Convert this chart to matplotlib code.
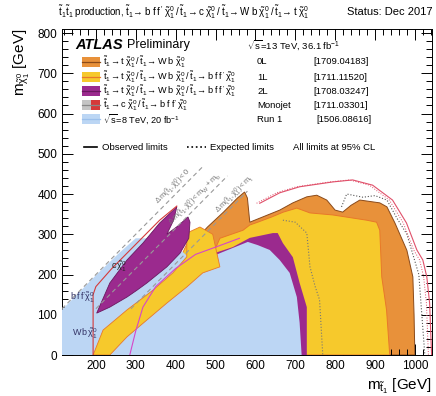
import matplotlib
matplotlib.use("Agg")
import matplotlib.pyplot as plt
import numpy as np
from matplotlib.ticker import MultipleLocator
from matplotlib.patches import Rectangle
from matplotlib.lines import Line2D

plt.rcParams['font.family'] = ['Liberation Sans', 'DejaVu Sans']
plt.rcParams['mathtext.fontset'] = 'custom'
plt.rcParams['mathtext.rm'] = 'Liberation Sans'
plt.rcParams['mathtext.it'] = 'Liberation Sans'
plt.rcParams['mathtext.bf'] = 'Liberation Sans:bold'

# --- exclusion contours (m_stop, m_chi) in GeV ---
zeroL_x = [1000, 998, 995, 980, 950, 930, 912, 862, 840, 819, 800, 779, 754, 729, 694, 661, 611, 586,
           580, 573, 555, 520, 480, 461, 440, 300]
zeroL_y = [0, 100, 194, 260, 328, 368, 378, 385, 372, 355, 360, 385, 397, 393, 378, 360, 340, 330,
           390, 405, 390, 355, 318, 298, 250, 0]

oneL_x = [937, 929, 917, 912, 904, 879, 794, 737, 704, 670, 641, 606, 586, 569, 540, 511, 500, 493,
          480, 461, 430, 300]
oneL_y = [0, 112, 194, 310, 330, 335, 348, 353, 365, 355, 343, 330, 323, 310, 300, 290, 265, 290,
          305, 303, 280, 0]

twoL_x = [729, 729, 711, 694, 669, 656, 644, 586, 543, 503, 461, 436, 420, 400]
twoL_y = [0, 119, 179, 243, 278, 303, 303, 291, 268, 255, 236, 200, 180, 0]

run1_x = [115, 115, 200, 260, 300, 380, 430, 461, 511, 561, 581, 606, 636, 661, 686, 704, 711, 716]
run1_y = [0, 112, 198, 255, 290, 290, 245, 231, 253, 273, 281, 273, 261, 236, 204, 144, 80, 0]

twoL_diag_x = [202, 235, 278, 318, 360, 403, 395, 378, 405, 431, 436, 433, 411, 378, 328, 303, 278, 235]
twoL_diag_y = [104, 179, 236, 278, 328, 368, 335, 300, 320, 343, 330, 290, 253, 219, 179, 161, 144, 119]

oneL_band_x = [193, 218, 278, 343, 393, 428, 428, 461, 493, 511, 468, 428, 378, 328, 278, 235]
oneL_band_y = [0, 62, 112, 161, 204, 244, 303, 318, 300, 219, 204, 169, 129, 87, 45, 0]

# --- limit lines ---
zeroL_obs_x = [611, 661, 711, 794, 844, 894, 944, 979, 1005, 1020, 1030, 1037, 1042]
zeroL_obs_y = [377, 403, 418, 430, 435, 422, 385, 328, 261, 236, 194, 129, 0]
zeroL_exp_x = [816, 829, 870, 900, 930, 955, 980, 1010, 1025]
zeroL_exp_y = [368, 400, 392, 396, 385, 340, 300, 200, 0]
oneL_exp_x = [669, 700, 729, 737, 750, 761, 769]
oneL_exp_y = [335, 330, 303, 219, 170, 137, 0]
mono_obs_x = [193, 193, 200, 240, 300, 360, 403]
mono_obs_y = [0, 150, 170, 215, 275, 335, 370]
twoL_exp_x = [285, 300, 318, 350, 400, 450, 500, 560]
twoL_exp_y = [0, 60, 119, 170, 215, 250, 268, 290]

# kinematic limits: m_chi = m_stop - dm
kin_dm = [0, 85, 173]
kin_end = [470, 530, 580]
kin_labels = [r'$\Delta\,m(\tilde{t}_1,\tilde{\chi}^0_1) < 0$',
              r'$\Delta\,m(\tilde{t}_1,\tilde{\chi}^0_1) < m_W + m_b$',
              r'$\Delta\,m(\tilde{t}_1,\tilde{\chi}^0_1) < m_t$']
kin_label_x = [395, 450, 550]

# legend rows
leg_colors = ['#e8913a', '#f6c92c', '#9b2a8e', None, '#bcd6f4']
leg_lines = ['#8a4a1a', '#e8782a', '#6a1860', '#888888', '#9cc0ec']
leg_desc = [r'$\tilde{t}_1\!\rightarrow t\;\tilde{\chi}^0_1\:/\:\tilde{t}_1\!\rightarrow W\;b\;\tilde{\chi}^0_1$',
            r'$\tilde{t}_1\!\rightarrow t\;\tilde{\chi}^0_1\:/\:\tilde{t}_1\!\rightarrow W\;b\;\tilde{\chi}^0_1\:/\:\tilde{t}_1\!\rightarrow b\;f\;f^{\prime}\;\tilde{\chi}^0_1$',
            r'$\tilde{t}_1\!\rightarrow t\;\tilde{\chi}^0_1\:/\:\tilde{t}_1\!\rightarrow W\;b\;\tilde{\chi}^0_1\:/\:\tilde{t}_1\!\rightarrow b\;f\;f^{\prime}\;\tilde{\chi}^0_1$',
            r'$\tilde{t}_1\!\rightarrow c\;\tilde{\chi}^0_1\:/\:\tilde{t}_1\!\rightarrow b\;f\;f^{\prime}\;\tilde{\chi}^0_1$',
            r'$\sqrt{s}$=8 TeV, 20 fb$^{-1}$']
leg_tag = ['0L', '1L', '2L', 'Monojet', 'Run 1']
leg_ref = ['[1709.04183]', '[1711.11520]', '[1708.03247]', '[1711.03301]', '[1506.08616]']

fig = plt.figure(figsize=(4.36, 3.96), dpi=100)
ax = fig.add_axes([62/436, 1-355/396, 370/436, 326/396])
ax.set_xlim(115, 1043)
ax.set_ylim(0, 810)

ax.fill(zeroL_x, zeroL_y, color='#e8913a', ec='#8a4a1a', lw=0.7, zorder=1)
ax.fill(oneL_x, oneL_y, color='#f6c92c', ec='#e8782a', lw=0.7, zorder=2)
ax.fill(twoL_x, twoL_y, color='#9b2a8e', ec='none', zorder=3)
ax.fill(run1_x, run1_y, color='#bcd6f4', ec='none', zorder=4)
ax.fill(oneL_band_x, oneL_band_y, color='#f6c92c', ec='#e8782a', lw=0.6, zorder=5)
ax.fill(twoL_diag_x, twoL_diag_y, color='#9b2a8e', ec='#6a1860', lw=0.6, zorder=6)

ax.plot(zeroL_obs_x, zeroL_obs_y, color='#e0506a', lw=0.8, zorder=7)
ax.plot(np.array(zeroL_obs_x) - 8, zeroL_obs_y, color='#e0506a', lw=0.7, ls=':', zorder=7)
ax.plot(zeroL_exp_x, zeroL_exp_y, color='#555555', lw=0.8, ls=':', zorder=7)
ax.plot(oneL_exp_x, oneL_exp_y, color='#777777', lw=0.8, ls=':', zorder=7)
ax.plot(mono_obs_x, mono_obs_y, color='#d53a3a', lw=0.8, zorder=7)
ax.plot(twoL_exp_x, twoL_exp_y, color='#d646c8', lw=0.8, zorder=7)

for dm, xe, lab, xl in zip(kin_dm, kin_end, kin_labels, kin_label_x):
    xs = np.array([115 + dm, xe])
    ax.plot(xs, xs - dm, color='#999999', lw=0.8, ls=(0, (4, 3)), zorder=8)
    ax.text(xl, xl - dm + 22, lab, rotation=45, rotation_mode='anchor', fontsize=5.5,
            color='#777777', ha='center', va='center', zorder=8)

ax.text(140, 47, r'$W\,b\,\tilde{\chi}^0_1$', fontsize=6.5, color='#333366', zorder=9)
ax.text(135, 135, r'$b\,f\,f^{\prime}\tilde{\chi}^0_1$', fontsize=6.5, color='#333366', zorder=9)
ax.text(237, 213, r'$c\,\tilde{\chi}^0_1$', fontsize=6.5, color='#222222', zorder=9)

# ticks
ax.xaxis.set_major_locator(MultipleLocator(100))
ax.xaxis.set_minor_locator(MultipleLocator(20))
ax.yaxis.set_major_locator(MultipleLocator(100))
ax.yaxis.set_minor_locator(MultipleLocator(20))
ax.tick_params(which='both', direction='in', top=True, right=True, labelsize=8.5, width=0.7)
ax.tick_params(which='major', length=8)
ax.tick_params(which='minor', length=4)
ax.set_xticks([200, 300, 400, 500, 600, 700, 800, 900, 1000])
for s in ax.spines.values():
    s.set_linewidth(0.7)
ax.set_xlabel(r'$m_{\tilde{t}_1}$ [GeV]', fontsize=11, loc='right')
ax.set_ylabel(r'$m_{\tilde{\chi}^0_1}$ [GeV]', fontsize=11, loc='top')

# header
fig.text(58/436, 1-12/396, r'$\tilde{t}_1\tilde{t}_1$ production, $\tilde{t}_1\!\rightarrow b\;f\;f^{\prime}\;\tilde{\chi}^0_1\:/\:\tilde{t}_1\!\rightarrow c\;\tilde{\chi}^0_1\:/\:\tilde{t}_1\!\rightarrow W\;b\;\tilde{\chi}^0_1\:/\:\tilde{t}_1\!\rightarrow t\;\tilde{\chi}^0_1$',
         fontsize=7, va='center', ha='left')
fig.text(432/436, 1-12/396, 'Status: Dec 2017', fontsize=8, va='center', ha='right')

# legend block (pixel positions -> figure fractions)
def fx(p):
    return p / 436

def fy(p):
    return 1 - p / 396

fig.text(fx(75), fy(45), 'ATLAS', fontsize=10.5, fontweight='bold', style='italic', va='center')
fig.text(fx(127), fy(45), 'Preliminary', fontsize=9, va='center')
fig.text(fx(247), fy(45), r'$\sqrt{s}$=13 TeV, 36.1 fb$^{-1}$', fontsize=6.8, va='center')
row_y = [62, 77, 91, 105, 119]
for i, yy in enumerate(row_y):
    if leg_colors[i] is not None:
        fig.patches.append(Rectangle((fx(82), fy(yy + 5)), fx(18), 10/396, transform=fig.transFigure,
                                     color=leg_colors[i], ec='none'))
    else:
        fig.patches.append(Rectangle((fx(82), fy(yy + 5)), fx(9), 10/396, transform=fig.transFigure,
                                     color='#c4c4c4', ec='none'))
        fig.patches.append(Rectangle((fx(91), fy(yy + 5)), fx(9), 10/396, transform=fig.transFigure,
                                     color='#d53a3a', ec='none'))
    fig.lines.append(Line2D([fx(82), fx(100)], [fy(yy), fy(yy)], transform=fig.transFigure,
                            color=leg_lines[i], lw=0.9))
    fig.text(fx(103), fy(yy), leg_desc[i], fontsize=6.6, va='center')
    fig.text(fx(257), fy(yy), leg_tag[i], fontsize=6.8, va='center')
    fig.text(fx(313 if i < 4 else 316), fy(yy), leg_ref[i], fontsize=6.8, va='center')

fig.lines.append(Line2D([fx(84), fx(97)], [fy(147), fy(147)], transform=fig.transFigure, color='k', lw=1.2))
fig.text(fx(102), fy(147), 'Observed limits', fontsize=6.8, va='center')
fig.lines.append(Line2D([fx(187), fx(206)], [fy(147), fy(147)], transform=fig.transFigure, color='k',
                        lw=1.2, ls=':'))
fig.text(fx(210), fy(147), 'Expected limits', fontsize=6.8, va='center')
fig.text(fx(293), fy(147), 'All limits at 95% CL', fontsize=6.8, va='center')

fig.savefig('out.png', dpi=100)
